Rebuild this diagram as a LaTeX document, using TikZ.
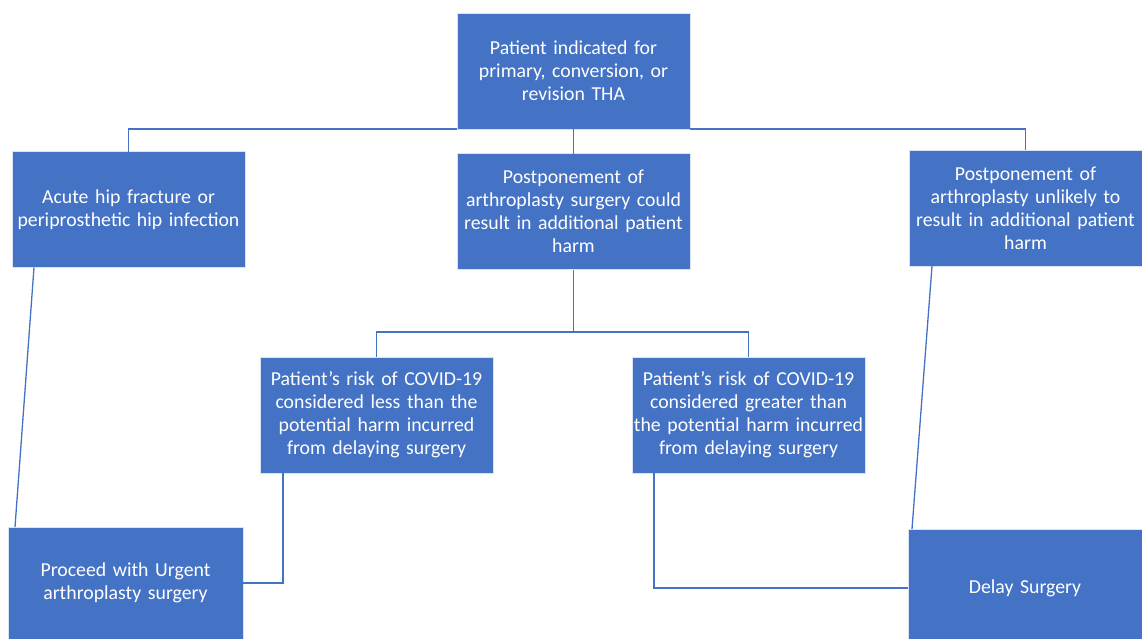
\documentclass[tikz,border=0pt]{standalone}
\usepackage{fontspec}
\setmainfont{Carlito}
\usetikzlibrary{calc}
\definecolor{boxblue}{HTML}{4472C4}

\begin{document}
\begin{tikzpicture}[
    x=1pt, y=-1pt,
    box/.style={rectangle, fill=boxblue, draw=white!80!boxblue, line width=0.8pt, minimum width=233pt, minimum height=116pt, inner sep=0pt, outer sep=0pt, text width=233pt, align=center, text=white, font=\fontsize{19.8}{23}\selectfont},
    link/.style={draw=boxblue, line width=1.3pt}
]
    \useasboundingbox (0,0) rectangle (1142,638);
    \clip (0,0) rectangle (1142,638);

    \node[box] (patient) at (573.5,71) {Patient indicated for\\primary, conversion, or\\revision THA};
    \node[box] (acute) at (128.5,209.5) {Acute hip fracture or\\periprosthetic hip infection};
    \node[box] (could) at (573.5,211.5) {Postponement of\\arthroplasty surgery could\\result in additional patient\\harm};
    \node[box] (unlikely) at (1025.5,208) {Postponement of\\arthroplasty unlikely to\\result in additional patient\\harm};
    \node[box] (less) at (376.5,415) {Patient’s risk of COVID-19\\considered less than the\\potential harm incurred\\from delaying surgery};
    \node[box] (greater) at (748.5,415) {Patient’s risk of COVID-19\\considered greater than\\the potential harm incurred\\from delaying surgery};
    \node[box, minimum width=235pt, minimum height=112pt] (proceed) at (125.5,583) {Proceed with Urgent\\arthroplasty surgery};
    \node[box, minimum width=234pt, minimum height=118pt] (delay) at (1025,588) {Delay Surgery};

    \coordinate (fork) at (573.5,332);

    \draw[link] (patient.south west) -| (acute.north);
    \draw[link] (patient.south east) -| (unlikely.north);
    \draw[link] (patient.south) -- (could.north);
    \draw[link] (could.south) -- (fork);
    \draw[link] (less.north) |- (fork) -| (greater.north);
    \draw[link] ($(acute.south west)+(22,0)$) -- ($(proceed.north west)+(7,0)$);
    \draw[link] ($(unlikely.south west)+(23,0)$) -- ($(delay.north west)+(4,0)$);
    \draw[link] ($(less.south west)+(23,0)$) |- (proceed.east);
    \draw[link] ($(greater.south west)+(22,0)$) |- (delay.west);
\end{tikzpicture}
\end{document}
